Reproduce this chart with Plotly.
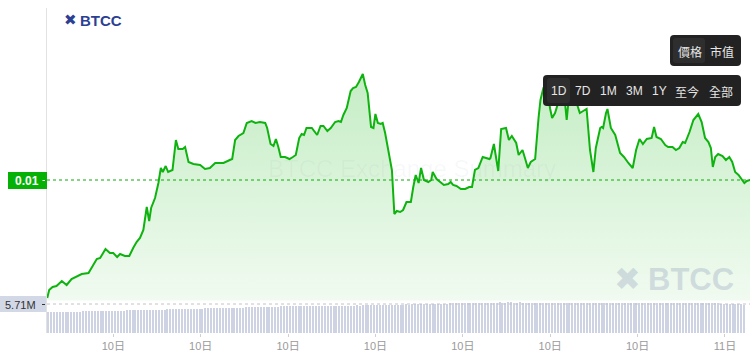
import pandas as pd
import plotly.graph_objects as go

# ---------------- data ----------------
BASE = pd.Timestamp("2025-01-10 00:00")

# minutes after 10日 00:00
price_minutes = [
    44, 48, 55, 63, 74, 84, 94, 105, 115, 129, 139, 146, 153, 164, 173, 180, 188, 194, 204, 213,
    221, 228, 235, 242, 249, 254, 258, 266, 273, 278, 282, 288, 293, 302, 309, 314, 323, 328, 335, 345,
    359, 369, 379, 390, 396, 407, 420, 425, 431, 438, 448, 455, 465, 473, 482, 493, 497, 504, 510, 515,
    520, 525, 534, 543, 550, 556, 563, 568, 573, 578, 589, 596, 600, 607, 613, 621, 628, 637, 644, 649,
    654, 661, 669, 674, 680, 686, 694, 699, 704, 711, 716, 720, 725, 731, 735, 740, 749, 754, 759, 764,
    771, 777, 784, 793, 798, 803, 809, 814, 820, 829, 835, 838, 846, 853, 861, 870, 875, 880, 887, 896,
    905, 913, 919, 925, 932, 941, 955, 957, 964, 973, 979, 989, 995, 1001, 1010, 1015, 1023, 1028, 1034, 1040,
    1049, 1056, 1060, 1066, 1072, 1080, 1084, 1090, 1095, 1101, 1107, 1111, 1114, 1117, 1123, 1130, 1136, 1141, 1148, 1155,
    1162, 1169, 1174, 1183, 1186, 1189, 1195, 1198, 1205, 1214, 1224, 1232, 1241, 1250, 1257, 1264, 1271, 1279, 1289, 1294,
    1299, 1308, 1317, 1323, 1332, 1339, 1346, 1353, 1358, 1367, 1375, 1385, 1392, 1399, 1406, 1411, 1415, 1420, 1426, 1435,
    1442, 1449, 1455, 1461, 1468, 1475, 1480, 1485, 1492,
]
price_values = [
    0.00882, 0.00890, 0.00893, 0.00894, 0.00899, 0.00895, 0.00901, 0.00904, 0.00906, 0.00907,
    0.00915, 0.00921, 0.00922, 0.00931, 0.00927, 0.00927, 0.00923, 0.00926, 0.00924, 0.00924,
    0.00932, 0.00938, 0.00942, 0.00950, 0.00973, 0.00959, 0.00972, 0.00982, 0.00997, 0.01012,
    0.01008, 0.01014, 0.01008, 0.01010, 0.01040, 0.01031, 0.01031, 0.01033, 0.01018, 0.01016,
    0.01015, 0.01011, 0.01012, 0.01017, 0.01017, 0.01017, 0.01020, 0.01021, 0.01040, 0.01044,
    0.01047, 0.01057, 0.01059, 0.01057, 0.01058, 0.01057, 0.01052, 0.01036, 0.01034, 0.01041,
    0.01033, 0.01023, 0.01023, 0.01021, 0.01023, 0.01025, 0.01042, 0.01046, 0.01045, 0.01052,
    0.01052, 0.01047, 0.01045, 0.01054, 0.01054, 0.01049, 0.01052, 0.01058, 0.01059, 0.01058,
    0.01065, 0.01072, 0.01089, 0.01092, 0.01093, 0.01098, 0.01106, 0.01095, 0.01087, 0.01053,
    0.01052, 0.01066, 0.01057, 0.01056, 0.01057, 0.01047, 0.01023, 0.01010, 0.00966, 0.00969,
    0.00968, 0.00970, 0.00978, 0.00978, 0.00993, 0.01005, 0.00997, 0.01012, 0.01000, 0.00998,
    0.01000, 0.01008, 0.01001, 0.00998, 0.00995, 0.00996, 0.00998, 0.00995, 0.00994, 0.00991,
    0.00991, 0.00993, 0.00993, 0.01010, 0.01012, 0.01023, 0.01021, 0.01022, 0.01036, 0.01009,
    0.01051, 0.01052, 0.01040, 0.01044, 0.01037, 0.01025, 0.01030, 0.01022, 0.01012, 0.01018,
    0.01021, 0.01062, 0.01080, 0.01092, 0.01096, 0.01071, 0.01062, 0.01067, 0.01075, 0.01090,
    0.01086, 0.01075, 0.01060, 0.01075, 0.01094, 0.01084, 0.01075, 0.01067, 0.01069, 0.01071,
    0.01030, 0.01008, 0.01032, 0.01052, 0.01053, 0.01052, 0.01067, 0.01071, 0.01052, 0.01045,
    0.01027, 0.01023, 0.01017, 0.01012, 0.01030, 0.01041, 0.01036, 0.01041, 0.01042, 0.01053,
    0.01043, 0.01041, 0.01035, 0.01033, 0.01033, 0.01030, 0.01032, 0.01038, 0.01037, 0.01048,
    0.01060, 0.01066, 0.01058, 0.01042, 0.01038, 0.01032, 0.01013, 0.01023, 0.01026, 0.01024,
    0.01020, 0.01023, 0.01018, 0.01008, 0.01005, 0.01000, 0.00997, 0.00999, 0.01000,
]

# volume (millions), one bar every 6 minutes starting 00:46
volume_start_minute = 46
volume_values = [
    4.21, 4.24, 4.22, 4.26, 4.25, 4.28, 4.27, 4.30, 4.29, 4.31, 4.33, 4.32,
    4.35, 4.34, 4.37, 4.39, 4.38, 4.41, 4.43, 4.42, 4.45, 4.47, 4.46, 4.49,
    4.51, 4.50, 4.53, 4.55, 4.54, 4.57, 4.59, 4.58, 4.61, 4.63, 4.62, 4.65,
    4.67, 4.66, 4.69, 4.72, 4.71, 4.74, 4.76, 4.75, 4.78, 4.80, 4.79, 4.82,
    4.85, 4.84, 4.87, 4.89, 4.88, 4.91, 4.94, 4.93, 4.96, 4.98, 4.97, 5.00,
    5.03, 5.02, 5.05, 5.08, 5.07, 5.10, 5.12, 5.11, 5.14, 5.17, 5.16, 5.19,
    5.21, 5.20, 5.23, 5.26, 5.25, 5.28, 5.30, 5.29, 5.32, 5.35, 5.36, 5.38,
    5.40, 5.39, 5.42, 5.41, 5.43, 5.42, 5.44, 5.43, 5.45, 5.44, 5.46, 5.45,
    5.47, 5.46, 5.48, 5.47, 5.49, 5.48, 5.50, 5.49, 5.51, 5.50, 5.52, 5.51,
    5.53, 5.52, 5.55, 5.54, 5.56, 5.58, 5.57, 5.60, 5.62, 5.61, 5.64, 5.66,
    5.68, 5.67, 5.70, 5.72, 5.71, 5.74, 5.76, 5.75, 5.78, 5.80, 5.79, 5.82,
    5.84, 5.83, 5.86, 5.88, 5.87, 5.90, 5.92, 5.91, 5.94, 5.96, 5.95, 5.98,
    6.00, 6.02, 6.01, 6.04, 6.06, 6.05, 6.08, 6.07, 6.09, 6.10, 6.08, 6.11,
    6.09, 6.10, 6.12, 6.11, 6.10, 6.09, 6.11, 6.10, 6.08, 6.07, 6.09, 6.08,
    6.06, 6.07, 6.05, 6.06, 6.04, 6.05, 6.06, 6.04, 6.03, 6.05, 6.04, 6.06,
    6.05, 6.03, 6.04, 6.06, 6.05, 6.07, 6.06, 6.04, 6.05, 6.03, 6.04, 6.02,
    6.03, 6.05, 6.04, 6.02, 6.03, 6.01, 6.02, 6.04, 6.03, 6.01, 6.02, 6.00,
    6.01, 6.03, 6.02, 6.00, 6.01, 5.99, 6.00, 6.02, 6.01, 5.99, 6.00, 5.98,
    5.99, 6.01, 6.00, 5.98, 5.97, 5.99, 5.98, 5.96, 5.97, 5.95, 5.96, 5.94,
    5.93, 5.95, 5.92, 5.90, 5.88, 5.85, 5.83, 5.80, 5.78, 5.75, 5.73, 5.71,
]

tick_hours = [3, 6, 9, 12, 15, 18, 21, 24]
tick_labels = ["10日", "10日", "10日", "10日", "10日", "10日", "10日", "11日"]

current_price = 0.01
current_price_label = "0.01"
current_volume = 5.71
current_volume_label = "5.71M"

range_buttons = ["1D", "7D", "1M", "3M", "1Y", "至今", "全部"]
type_buttons = ["價格", "市值"]

# ---------------- figure ----------------
W, H = 756, 361
ML, MR, MT, MB = 47, 6, 8, 28
PW, PH = W - ML - MR, H - MT - MB
BOTTOM = H - MB


def fx(x):
    return (x - ML) / PW


def fy(y):
    return (BOTTOM - y) / PH


def rrect(x0, y0, x1, y1, r):
    return (f"M{fx(x0 + r)},{fy(y0)} L{fx(x1 - r)},{fy(y0)} Q{fx(x1)},{fy(y0)} {fx(x1)},{fy(y0 + r)} "
            f"L{fx(x1)},{fy(y1 - r)} Q{fx(x1)},{fy(y1)} {fx(x1 - r)},{fy(y1)} "
            f"L{fx(x0 + r)},{fy(y1)} Q{fx(x0)},{fy(y1)} {fx(x0)},{fy(y1 - r)} "
            f"L{fx(x0)},{fy(y0 + r)} Q{fx(x0)},{fy(y0)} {fx(x0 + r)},{fy(y0)} Z")


price_x = [BASE + pd.Timedelta(minutes=m) for m in price_minutes]
vol_x = pd.date_range(BASE + pd.Timedelta(minutes=volume_start_minute), periods=len(volume_values), freq="6min")

x_start = BASE + pd.Timedelta(minutes=43.5)
x_end = BASE + pd.Timedelta(minutes=1491.6)

price_lo = 0.00871
vol_top = 6.40

FONT = "Liberation Sans, Arial, Noto Sans CJK TC, sans-serif"

fig = go.Figure()

fig.add_trace(go.Scatter(
    x=price_x, y=price_values, mode="lines",
    line=dict(color="#0fb30f", width=2),
    fill="tozeroy",
    fillgradient=dict(type="vertical",
                      colorscale=[[0, "rgba(0,176,0,0.05)"], [1, "rgba(0,176,0,0.23)"]],
                      start=price_lo, stop=max(price_values)),
    hoverinfo="skip", yaxis="y", xaxis="x",
))

fig.add_trace(go.Bar(
    x=vol_x, y=volume_values, yaxis="y2", xaxis="x",
    marker=dict(color="#cdd3e3", line=dict(width=0)),
    width=160000, hoverinfo="skip",
))

shapes = []
annotations = []

# left axis line
shapes.append(dict(type="line", xref="paper", yref="paper", x0=fx(46.5), x1=fx(46.5),
                   y0=fy(BOTTOM), y1=fy(MT), line=dict(color="#e2e2e2", width=1), layer="above"))

# current price dotted line
shapes.append(dict(type="line", xref="paper", yref="y", x0=0, x1=1, y0=current_price, y1=current_price,
                   line=dict(color="#0aaa0a", width=1, dash="dot"), layer="above"))
# current volume dotted line
shapes.append(dict(type="line", xref="paper", yref="y2", x0=0, x1=1, y0=current_volume, y1=current_volume,
                   line=dict(color="#c4c4c4", width=1, dash="dot"), layer="above"))

# price label box
shapes.append(dict(type="rect", xref="paper", yref="paper", x0=fx(8), x1=fx(47), y0=fy(189), y1=fy(172),
                   fillcolor="#05b105", line=dict(width=0), layer="above"))
shapes.append(dict(type="line", xref="paper", yref="paper", x0=fx(42.5), x1=fx(45), y0=fy(180.5), y1=fy(180.5),
                   line=dict(color="white", width=1), layer="above"))
annotations.append(dict(xref="paper", yref="paper", x=fx(26.5), y=fy(180.5), text=f"<b>{current_price_label}</b>",
                        showarrow=False, xanchor="center", yanchor="middle",
                        font=dict(family=FONT, size=12, color="white")))

# volume label box
shapes.append(dict(type="rect", xref="paper", yref="paper", x0=fx(0), x1=fx(46), y0=fy(312), y1=fy(296),
                   fillcolor="#d3d8e6", line=dict(width=0), layer="above"))
shapes.append(dict(type="line", xref="paper", yref="paper", x0=fx(42), x1=fx(45), y0=fy(304.5), y1=fy(304.5),
                   line=dict(color="#333", width=1), layer="above"))
annotations.append(dict(xref="paper", yref="paper", x=fx(20.5), y=fy(304.5), text=current_volume_label,
                        showarrow=False, xanchor="center", yanchor="middle",
                        font=dict(family=FONT, size=11, color="#333")))

# top-left logo
annotations.append(dict(xref="paper", yref="paper", x=fx(70), y=fy(20), text="✖",
                        showarrow=False, xanchor="center", yanchor="middle",
                        font=dict(family="DejaVu Sans", size=15, color="#2c3f92")))
annotations.append(dict(xref="paper", yref="paper", x=fx(101), y=fy(20), text="<b>BTCC</b>",
                        showarrow=False, xanchor="center", yanchor="middle",
                        font=dict(family=FONT, size=15, color="#2c3f92")))

# watermark text
annotations.append(dict(xref="paper", yref="paper", x=fx(412), y=fy(168), text="BTCC Exchange Summary",
                        showarrow=False, xanchor="center", yanchor="middle",
                        font=dict(family=FONT, size=24, color="rgba(120,130,150,0.06)")))
# watermark logo
annotations.append(dict(xref="paper", yref="paper", x=fx(627), y=fy(279), text="✖",
                        showarrow=False, xanchor="center", yanchor="middle",
                        font=dict(family="DejaVu Sans", size=32, color="rgba(150,162,190,0.35)")))
annotations.append(dict(xref="paper", yref="paper", x=fx(691), y=fy(279), text="<b>BTCC</b>",
                        showarrow=False, xanchor="center", yanchor="middle",
                        font=dict(family=FONT, size=31, color="rgba(150,162,190,0.35)")))

# type buttons
shapes.append(dict(type="path", xref="paper", yref="paper", path=rrect(670, 35, 741, 66, 4),
                   fillcolor="#222222", line=dict(width=0), layer="above"))
shapes.append(dict(type="path", xref="paper", yref="paper", path=rrect(673, 38, 705, 63, 3),
                   fillcolor="#2e2e2e", line=dict(width=0), layer="above"))
for label, cx in zip(type_buttons, [689.5, 722]):
    annotations.append(dict(xref="paper", yref="paper", x=fx(cx), y=fy(51), text=label, showarrow=False,
                            xanchor="center", yanchor="middle",
                            font=dict(family="Noto Sans CJK TC", size=12, color="#e6e6e6")))

# range buttons
shapes.append(dict(type="path", xref="paper", yref="paper", path=rrect(543, 75, 741, 106, 4),
                   fillcolor="#222222", line=dict(width=0), layer="above"))
shapes.append(dict(type="path", xref="paper", yref="paper", path=rrect(547, 78, 570, 103, 3),
                   fillcolor="#2e2e2e", line=dict(width=0), layer="above"))
for label, cx in zip(range_buttons, [559, 582.5, 608, 634, 659.5, 687, 721]):
    fam = "Noto Sans CJK TC" if label in ("至今", "全部") else FONT
    annotations.append(dict(xref="paper", yref="paper", x=fx(cx), y=fy(91), text=label, showarrow=False,
                            xanchor="center", yanchor="middle",
                            font=dict(family=fam, size=12, color="#e6e6e6")))

tick_vals = [BASE + pd.Timedelta(hours=h) for h in tick_hours]

fig.update_layout(
    width=W, height=H,
    margin=dict(l=ML, r=MR, t=MT, b=MB, pad=0),
    paper_bgcolor="white", plot_bgcolor="white",
    showlegend=False, bargap=0,
    font=dict(family=FONT),
    xaxis=dict(type="date", range=[x_start, x_end], anchor="y2", showgrid=False, zeroline=False,
               showline=False, tickmode="array", tickvals=tick_vals, ticktext=tick_labels,
               ticks="outside", ticklen=3, tickcolor="#d0d0d0",
               tickfont=dict(family=FONT + ", Noto Sans CJK TC", size=11, color="#9a9a9a"), fixedrange=True),
    yaxis=dict(domain=[(BOTTOM - 309) / PH, 1], range=[price_lo, price_lo + (309 - MT) * 1e-5],
               visible=False, fixedrange=True),
    yaxis2=dict(domain=[0, 0.1], range=[0, vol_top], visible=False, anchor="x", fixedrange=True),
    shapes=shapes, annotations=annotations,
)

fig.write_html("out.html", config={"displayModeBar": False},
               post_script="document.body.style.margin='0px';document.body.style.padding='0px';")
